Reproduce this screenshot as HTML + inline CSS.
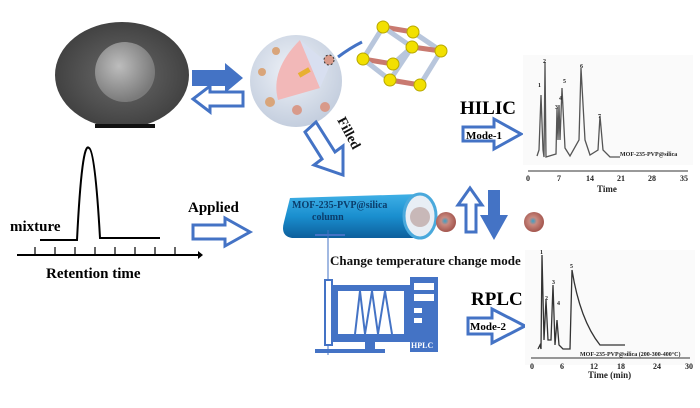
<!DOCTYPE html>
<html><head><meta charset="utf-8"><style>
body{margin:0;background:#fff}
svg{display:block;font-family:"Liberation Serif",serif;font-weight:bold}
</style></head><body>
<svg width="700" height="408" viewBox="0 0 700 408" xmlns="http://www.w3.org/2000/svg">
<defs>
<radialGradient id="sem" cx="50%" cy="50%" r="60%"><stop offset="0" stop-color="#6a6a6a"/><stop offset="1" stop-color="#3a3a3a"/></radialGradient>
<radialGradient id="ball" cx="40%" cy="40%" r="60%"><stop offset="0" stop-color="#bdbdbd"/><stop offset="1" stop-color="#7a7a7a"/></radialGradient>
<radialGradient id="sph" cx="45%" cy="40%" r="60%"><stop offset="0" stop-color="#eef2f8"/><stop offset="1" stop-color="#c4cede"/></radialGradient>
<linearGradient id="col" x1="0" y1="0" x2="0" y2="1"><stop offset="0" stop-color="#3fb0e6"/><stop offset="0.5" stop-color="#1a8fcf"/><stop offset="1" stop-color="#0d5f9c"/></linearGradient>
<radialGradient id="pb" cx="45%" cy="45%" r="55%"><stop offset="0" stop-color="#3aa0c8"/><stop offset="0.35" stop-color="#c98a80"/><stop offset="1" stop-color="#a4564e"/></radialGradient>
</defs>
<rect width="700" height="408" fill="#fff"/>
<!-- SEM -->
<ellipse cx="122" cy="75" rx="67" ry="53" fill="url(#sem)"/>
<circle cx="125" cy="72" r="30" fill="url(#ball)"/>
<rect x="95" y="124" width="60" height="4" fill="#111"/>
<!-- double arrows -->
<path d="M192 70 H225 V63 L243 78 L225 93 V86 H192 Z" fill="#4473c5"/>
<path d="M243 92 V106 H210 V112 L193 99 L210 86 V92 Z" fill="#fff" stroke="#4473c5" stroke-width="3"/>
<!-- sphere -->
<circle cx="296" cy="81" r="46" fill="url(#sph)"/>
<path d="M300 40 L320 88 L278 100 Q270 70 300 40Z" fill="#f2b8b8"/>
<path d="M300 40 L320 88 L330 65Z" fill="#d8dff0"/>
<rect x="298" y="70" width="12" height="5" fill="#e8b030" transform="rotate(-30 304 72)"/>
<circle cx="276" cy="51" r="4" fill="#d9a57a"/><circle cx="262" cy="72" r="4" fill="#d9a57a"/>
<circle cx="270" cy="102" r="5" fill="#d9a57a"/><circle cx="297" cy="110" r="5" fill="#d89a8a"/>
<circle cx="325" cy="107" r="5" fill="#d89a8a"/><circle cx="329" cy="60" r="5" fill="#d89a8a" stroke="#333" stroke-dasharray="2 2"/>
<path d="M362 42 Q350 48 338 57" stroke="#4473c5" stroke-width="3" fill="none"/>
<!-- cube -->
<g stroke-width="5" stroke-linecap="round">
<line x1="383" y1="27" x2="413" y2="32" stroke="#c97a70"/><line x1="413" y1="32" x2="441" y2="51" stroke="#b8c6dc"/>
<line x1="383" y1="27" x2="363" y2="59" stroke="#b8c6dc"/><line x1="412" y1="47" x2="441" y2="51" stroke="#c97a70"/>
<line x1="363" y1="59" x2="393" y2="64" stroke="#c97a70"/><line x1="393" y1="64" x2="412" y2="47" stroke="#b8c6dc"/>
<line x1="412" y1="47" x2="390" y2="80" stroke="#b8c6dc"/><line x1="441" y1="51" x2="420" y2="85" stroke="#b8c6dc"/>
<line x1="390" y1="80" x2="420" y2="85" stroke="#c97a70"/><line x1="363" y1="59" x2="390" y2="80" stroke="#b8c6dc"/>
<line x1="383" y1="27" x2="412" y2="47" stroke="#b8c6dc"/>
</g>
<g fill="#f2e000" stroke="#b8a800"><circle cx="383" cy="27" r="6"/><circle cx="413" cy="32" r="6"/><circle cx="412" cy="47" r="6"/><circle cx="441" cy="51" r="6"/><circle cx="363" cy="59" r="6"/><circle cx="393" cy="64" r="6"/><circle cx="390" cy="80" r="6"/><circle cx="420" cy="85" r="6"/></g>
<!-- Filled arrow -->
<path d="M305 132 L316 122 L335 152 L343 146 L343 175 L314 165 L322 159 Z" fill="#fff" stroke="#4473c5" stroke-width="3"/>
<text x="0" y="0" font-size="14" transform="translate(337 120) rotate(62)" fill="#111">Filled</text>
<!-- left chromatogram -->
<path d="M40 240 H77 Q82 140 89 148 Q95 150 100 238 H160" fill="none" stroke="#000" stroke-width="2"/>
<line x1="17" y1="255" x2="198" y2="255" stroke="#000" stroke-width="2"/>
<path d="M198 251 L203 255 L198 259Z"/>
<g stroke="#000" stroke-width="1.2"><line x1="35" y1="247" x2="35" y2="255"/><line x1="55" y1="247" x2="55" y2="255"/><line x1="75" y1="247" x2="75" y2="255"/><line x1="95" y1="247" x2="95" y2="255"/><line x1="115" y1="247" x2="115" y2="255"/><line x1="135" y1="247" x2="135" y2="255"/><line x1="155" y1="247" x2="155" y2="255"/><line x1="175" y1="247" x2="175" y2="255"/></g>
<text x="10" y="231" font-size="15">mixture</text>
<text x="46" y="278" font-size="15">Retention time</text>
<text x="188" y="212" font-size="15">Applied</text>
<path d="M193 225 H225 V218 L250 232 L225 246 V239 H193 Z" fill="#fff" stroke="#4473c5" stroke-width="3"/>
<!-- column -->
<path d="M290 198 L420 194 A16 22 0 0 1 420 238 L292 238 Q280 236 284 222 Z" fill="url(#col)"/>
<ellipse cx="420" cy="216" rx="16" ry="22" fill="#e8eef5" stroke="#4aa9dc" stroke-width="3"/>
<circle cx="420" cy="217" r="10" fill="#c8b8b8"/>
<text x="292" y="208" font-size="10" fill="#0b3d6b">MOF-235-PVP@silica</text>
<text x="312" y="220" font-size="10" fill="#0b3d6b">column</text>
<circle cx="446" cy="222" r="10" fill="url(#pb)"/>
<circle cx="534" cy="222" r="10" fill="url(#pb)"/>
<!-- up/down arrows -->
<path d="M466 232 V205 H458 L470 188 L482 205 H476 V232 Z" fill="#fff" stroke="#4473c5" stroke-width="3"/>
<path d="M488 190 H500 V215 H508 L494 240 L480 215 H488 Z" fill="#4473c5"/>
<text x="330" y="265" font-size="13" fill="#111">Change temperature change mode</text>
<!-- HPLC -->
<line x1="328" y1="230" x2="328" y2="355" stroke="#4473c5"/>
<line x1="315" y1="235" x2="345" y2="235" stroke="#4473c5" stroke-width="2"/>
<rect x="325" y="280" width="7" height="65" fill="#fff" stroke="#4473c5" stroke-width="2"/>
<rect x="332" y="285" width="78" height="57" fill="#4473c5"/>
<rect x="338" y="291" width="66" height="43" fill="#fff"/>
<path d="M355 334 L360 291 L365 334 L372 291 L378 334 L385 291 L392 334" stroke="#4473c5" stroke-width="2" fill="none"/>
<rect x="365" y="342" width="10" height="8" fill="#4473c5"/>
<rect x="315" y="349" width="70" height="4" fill="#4473c5"/>
<rect x="410" y="277" width="28" height="75" fill="#4473c5"/>
<rect x="414" y="283" width="20" height="7" fill="#fff"/><rect x="414" y="294" width="20" height="7" fill="#fff"/>
<rect x="414" y="308" width="8" height="5" fill="#fff"/><rect x="414" y="318" width="8" height="5" fill="#fff"/>
<text x="411" y="348" font-size="8" fill="#fff">HPLC</text>
<!-- RPLC -->
<text x="471" y="305" font-size="19">RPLC</text>
<path d="M468 318 H492 V309 L525 326 L492 343 V334 H468 Z" fill="#fff" stroke="#4473c5" stroke-width="3"/>
<text x="470" y="330" font-size="11">Mode-2</text>
<!-- HILIC -->
<text x="460" y="114" font-size="19">HILIC</text>
<path d="M463 127 H494 V119 L521 134 L494 149 V141 H463 Z" fill="#fff" stroke="#4473c5" stroke-width="3"/>
<text x="466" y="139" font-size="11">Mode-1</text>
<!-- top chromatogram -->
<rect x="523" y="55" width="170" height="110" fill="#fafafa"/>
<path d="M537 156 L539 150 L541 95 L543 150 L544 157 L545 62 L546 157 L556 154 L557 108 L558 140 L559 105 L560 140 L562 88 L565 148 L570 156 L579 140 L581 68 L585 140 L590 155 L598 150 L600 116 L603 150 L610 157 H620" fill="none" stroke="#555" stroke-width="1.3"/>
<g font-size="6" fill="#222"><text x="538" y="87">1</text><text x="543" y="63">2</text><text x="555" y="109">3</text><text x="559" y="100">4</text><text x="563" y="83">5</text><text x="580" y="68">6</text><text x="598" y="118">7</text><text x="620" y="156">MOF-235-PVP@silica</text></g>
<line x1="528" y1="171" x2="688" y2="171" stroke="#333"/>
<g font-size="8" fill="#222"><text x="526" y="181">0</text><text x="557" y="181">7</text><text x="586" y="181">14</text><text x="617" y="181">21</text><text x="648" y="181">28</text><text x="680" y="181">35</text><text x="597" y="192" font-size="9">Time</text></g>
<!-- bottom chromatogram -->
<rect x="525" y="250" width="170" height="115" fill="#fafafa"/>
<path d="M538 349 L540 345 L541 349 L542 255 L544 340 L546 300 L548 340 L551 340 L553 285 L555 345 L557 320 L559 345 L563 349 H570 L572 270 Q580 320 600 345 H625" fill="none" stroke="#333" stroke-width="1.3"/>
<g font-size="6" fill="#222"><text x="540" y="254">1</text><text x="545" y="300">2</text><text x="552" y="284">3</text><text x="557" y="305">4</text><text x="570" y="268">5</text><text x="580" y="356">MOF-235-PVP@silica (200-300-400°C)</text></g>
<line x1="531" y1="358" x2="690" y2="358" stroke="#333"/>
<g font-size="8" fill="#222"><text x="530" y="369">0</text><text x="560" y="369">6</text><text x="590" y="369">12</text><text x="617" y="369">18</text><text x="653" y="369">24</text><text x="685" y="369">30</text><text x="588" y="378" font-size="9">Time (min)</text></g>
</svg>
</body></html>
